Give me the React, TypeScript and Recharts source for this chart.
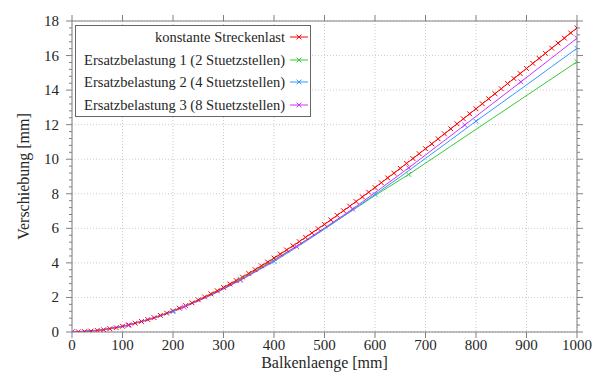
import React from 'react';
import { LineChart, Line, XAxis, YAxis, CartesianGrid, Legend } from 'recharts';

// ---- data ----
const seriesNames = [
  'konstante Streckenlast',
  'Ersatzbelastung 1 (2 Stuetzstellen)',
  'Ersatzbelastung 2 (4 Stuetzstellen)',
  'Ersatzbelastung 3 (8 Stuetzstellen)',
];
const seriesColors = ['#ff0000', '#33cc33', '#3399ff', '#cc33ff'];

// konstante Streckenlast (markers at every point)
const redX = [0, 12.5, 25, 37.5, 50, 62.5, 75, 87.5, 100, 112.5, 125, 137.5, 150, 162.5, 175, 187.5, 200, 212.5, 225, 237.5,
  250, 262.5, 275, 287.5, 300, 312.5, 325, 337.5, 350, 362.5, 375, 387.5, 400, 412.5, 425, 437.5, 450, 462.5, 475, 487.5,
  500, 512.5, 525, 537.5, 550, 562.5, 575, 587.5, 600, 612.5, 625, 637.5, 650, 662.5, 675, 687.5, 700, 712.5, 725, 737.5,
  750, 762.5, 775, 787.5, 800, 812.5, 825, 837.5, 850, 862.5, 875, 887.5, 900, 912.5, 925, 937.5, 950, 962.5, 975, 987.5, 1000];
const redY = [0, 0.01, 0.02, 0.05, 0.09, 0.13, 0.19, 0.25, 0.33, 0.41,
  0.51, 0.61, 0.72, 0.83, 0.96, 1.09, 1.23, 1.38, 1.53, 1.69,
  1.86, 2.03, 2.21, 2.39, 2.58, 2.78, 2.98, 3.18, 3.39, 3.61,
  3.83, 4.05, 4.28, 4.51, 4.75, 4.99, 5.23, 5.48, 5.73, 5.98,
  6.23, 6.49, 6.75, 7.02, 7.28, 7.55, 7.82, 8.09, 8.36, 8.64,
  8.92, 9.19, 9.47, 9.76, 10.04, 10.32, 10.61, 10.89, 11.18, 11.47,
  11.76, 12.05, 12.34, 12.63, 12.92, 13.21, 13.5, 13.79, 14.08, 14.38,
  14.67, 14.96, 15.25, 15.55, 15.84, 16.13, 16.43, 16.72, 17.01, 17.31, 17.6];

// Ersatzbelastung 1: curve points, markers only at the support points
const greenX = [0, 50, 100, 150, 200, 250, 300, 333.3, 400, 450, 500, 555.6, 600, 666.7, 750, 833.3, 916.7, 1000];
const greenY = [0, 0.09, 0.33, 0.71, 1.21, 1.83, 2.53, 3.06, 4.18, 5.06, 5.98, 7.04, 7.9, 9.12, 10.75, 12.38, 14.01, 15.64];
const greenMarkX = [0, 333.3, 666.7, 1000];

// Ersatzbelastung 2
const blueX = [0, 50, 100, 150, 200, 250, 300, 350, 400, 450, 500, 550, 600, 650, 700, 750, 800, 850, 900, 950, 1000];
const blueY = [0, 0.09, 0.32, 0.69, 1.18, 1.79, 2.48, 3.26, 4.08, 5.0, 5.95, 6.95, 7.96, 8.98, 10.05, 11.12, 12.2, 13.25, 14.3, 15.36, 16.42];
const blueMarkX = [0, 200, 400, 600, 800, 1000];

// Ersatzbelastung 3
const purpleX = [0, 55.6, 111.1, 166.7, 222.2, 277.8, 333.3, 388.9, 444.4, 500, 555.6, 611.1, 666.7, 722.2, 777.8, 833.3, 888.9, 944.4, 1000];
const purpleY = [0, 0.1, 0.39, 0.85, 1.45, 2.18, 3.0, 3.94, 4.95, 6.02, 7.12, 8.3, 9.5, 10.74, 11.98, 13.23, 14.48, 15.74, 17.0];
const purpleMarkX = [0, 111.1, 222.2, 333.3, 444.4, 555.6, 666.7, 777.8, 888.9, 1000];

const xTicks = [0, 100, 200, 300, 400, 500, 600, 700, 800, 900, 1000];
const yMajorTicks = [0, 2, 4, 6, 8, 10, 12, 14, 16, 18];

const xLabel = 'Balkenlaenge [mm]';
const yLabel = 'Verschiebung [mm]';

// ---- helpers ----
const zip = (xs: number[], ys: number[]) => xs.map((x, i) => ({ x, y: ys[i] }));
const datasets = [zip(redX, redY), zip(greenX, greenY), zip(blueX, blueY), zip(purpleX, purpleY)];
const markSets: (number[] | null)[] = [null, greenMarkX, blueMarkX, purpleMarkX];

const yAllTicks: number[] = [];
yMajorTicks.forEach((m, i) => {
  yAllTicks.push(m);
  if (i < yMajorTicks.length - 1) {
    for (let k = 1; k < 5; k++) yAllTicks.push(Math.round((m + k * 0.4) * 10) / 10);
  }
});

const AXIS = '#808080';
const TEXT = '#262626';
const FONT =
  "'Liberation Serif', 'DejaVu Serif', 'Noto Serif', 'Nimbus Roman', 'FreeSerif', 'Times New Roman', Times, 'Bitstream Vera Serif', serif";

const isMajor = (v: number) => Math.abs(v / 2 - Math.round(v / 2)) < 1e-6;

const LeftTick = (props: any) => {
  const { x, y, payload } = props;
  const v = payload.value;
  const major = isMajor(v);
  return (
    <g>
      <line x1={x} x2={x - (major ? 6 : 3)} y1={y} y2={y} stroke={AXIS} strokeWidth={1} />
      {major && (
        <text x={x - 13} y={y + 5} textAnchor="end" style={{ fontFamily: FONT, fontSize: 15 }} fill={TEXT}>
          {v}
        </text>
      )}
    </g>
  );
};

const RightTick = (props: any) => {
  const { x, y, payload } = props;
  const major = isMajor(payload.value);
  return <line x1={x} x2={x + (major ? 6 : 3)} y1={y} y2={y} stroke={AXIS} strokeWidth={1} />;
};

const BottomTick = (props: any) => {
  const { x, y, payload } = props;
  return (
    <g>
      <line x1={x} x2={x} y1={y} y2={y + 6} stroke={AXIS} strokeWidth={1} />
      <text x={x} y={y + 18} textAnchor="middle" style={{ fontFamily: FONT, fontSize: 15 }} fill={TEXT}>
        {payload.value}
      </text>
    </g>
  );
};

const TopTick = (props: any) => {
  const { x, y } = props;
  return <line x1={x} x2={x} y1={y} y2={y - 6} stroke={AXIS} strokeWidth={1} />;
};

const makeDot = (color: string, marks: number[] | null) => (props: any) => {
  const { cx, cy, index, payload } = props;
  const show = cx != null && cy != null && (!marks || marks.indexOf(payload.x) >= 0);
  if (!show) return <g key={`d${index}`} />;
  const s = 2.4;
  return (
    <path
      key={`d${index}`}
      d={`M${cx - s},${cy - s}L${cx + s},${cy + s}M${cx - s},${cy + s}L${cx + s},${cy - s}`}
      stroke={color}
      strokeWidth={1}
      fill="none"
    />
  );
};

const LegendBox = (props: any) => {
  const payload = [...(props.payload || [])].sort(
    (a: any, b: any) => seriesNames.indexOf(a.value) - seriesNames.indexOf(b.value)
  );
  return (
    <div
      style={{
        border: '1px solid #666',
        background: '#fff',
        width: 236,
        boxSizing: 'border-box',
        fontFamily: FONT,
        fontSize: 14.5,
        color: TEXT,
        paddingRight: 1,
      }}
    >
      {payload.map((e: any, i: number) => (
        <div
          key={i}
          style={{ display: 'flex', alignItems: 'center', justifyContent: 'flex-end', height: 22.5 }}
        >
          <span style={{ lineHeight: 1, marginRight: 2, whiteSpace: 'nowrap', fontFamily: FONT }}>{e.value}</span>
          <svg width={22} height={10} style={{ display: 'block' }}>
            <line x1={3} x2={21} y1={5} y2={5} stroke={e.color} strokeWidth={1} />
            <path d="M9.6,2.6L14.4,7.4M9.6,7.4L14.4,2.6" stroke={e.color} strokeWidth={1} fill="none" />
          </svg>
        </div>
      ))}
    </div>
  );
};

const XLabel = (p: any) => {
  const vb = p.viewBox;
  return (
    <text x={vb.x + vb.width / 2} y={vb.y + 36} textAnchor="middle" style={{ fontFamily: FONT, fontSize: 16 }} fill={TEXT}>
      {xLabel}
    </text>
  );
};

const YLabel = (p: any) => {
  const vb = p.viewBox;
  const cx = 23;
  const cy = vb.y + vb.height / 2;
  return (
    <text
      x={cx}
      y={cy}
      textAnchor="middle"
      dominantBaseline="central"
      transform={`rotate(-90, ${cx}, ${cy})`}
      style={{ fontFamily: FONT, fontSize: 16 }}
      fill={TEXT}
    >
      {yLabel}
    </text>
  );
};

export default function App() {
  return (
    <div style={{ position: 'absolute', left: 0, top: 0, background: '#fff', fontFamily: FONT }}>
      <LineChart width={599} height={372} margin={{ top: 0, right: 0, bottom: 0, left: 0 }}>
        <CartesianGrid
          xAxisId="bottom"
          yAxisId="left"
          horizontalValues={yMajorTicks}
          verticalValues={xTicks}
          stroke="#cccccc"
          strokeDasharray="1 2"
        />
        <XAxis
          xAxisId="bottom"
          dataKey="x"
          type="number"
          domain={[0, 1000]}
          allowDataOverflow
          ticks={xTicks}
          interval={0}
          height={40}
          tickSize={0}
          tickMargin={0}
          tickLine={false}
          axisLine={{ stroke: AXIS }}
          tick={BottomTick}
          label={{ content: XLabel }}
        />
        <XAxis
          xAxisId="top"
          orientation="top"
          dataKey="x"
          type="number"
          domain={[0, 1000]}
          allowDataOverflow
          ticks={xTicks}
          interval={0}
          height={21}
          tickSize={0}
          tickMargin={0}
          tickLine={false}
          axisLine={{ stroke: AXIS }}
          tick={TopTick}
        />
        <YAxis
          yAxisId="left"
          type="number"
          domain={[0, 18]}
          allowDataOverflow
          ticks={yAllTicks}
          interval={0}
          width={72}
          tickSize={0}
          tickMargin={0}
          tickLine={false}
          axisLine={{ stroke: AXIS }}
          tick={LeftTick}
          label={{ content: YLabel }}
        />
        <YAxis
          yAxisId="right"
          orientation="right"
          type="number"
          domain={[0, 18]}
          allowDataOverflow
          ticks={yAllTicks}
          interval={0}
          width={22}
          tickSize={0}
          tickMargin={0}
          tickLine={false}
          axisLine={{ stroke: AXIS }}
          tick={RightTick}
        />
        <Legend
          layout="horizontal"
          verticalAlign="middle"
          align="center"
          wrapperStyle={{ left: 75, top: 25, width: 236 }}
          content={LegendBox}
        />
        {datasets.map((d, i) => (
          <Line
            key={seriesNames[i]}
            data={d}
            dataKey="y"
            name={seriesNames[i]}
            xAxisId="bottom"
            yAxisId="left"
            type="linear"
            stroke={seriesColors[i]}
            strokeWidth={1}
            dot={makeDot(seriesColors[i], markSets[i])}
            activeDot={false}
            isAnimationActive={false}
          />
        ))}
      </LineChart>
    </div>
  );
}
